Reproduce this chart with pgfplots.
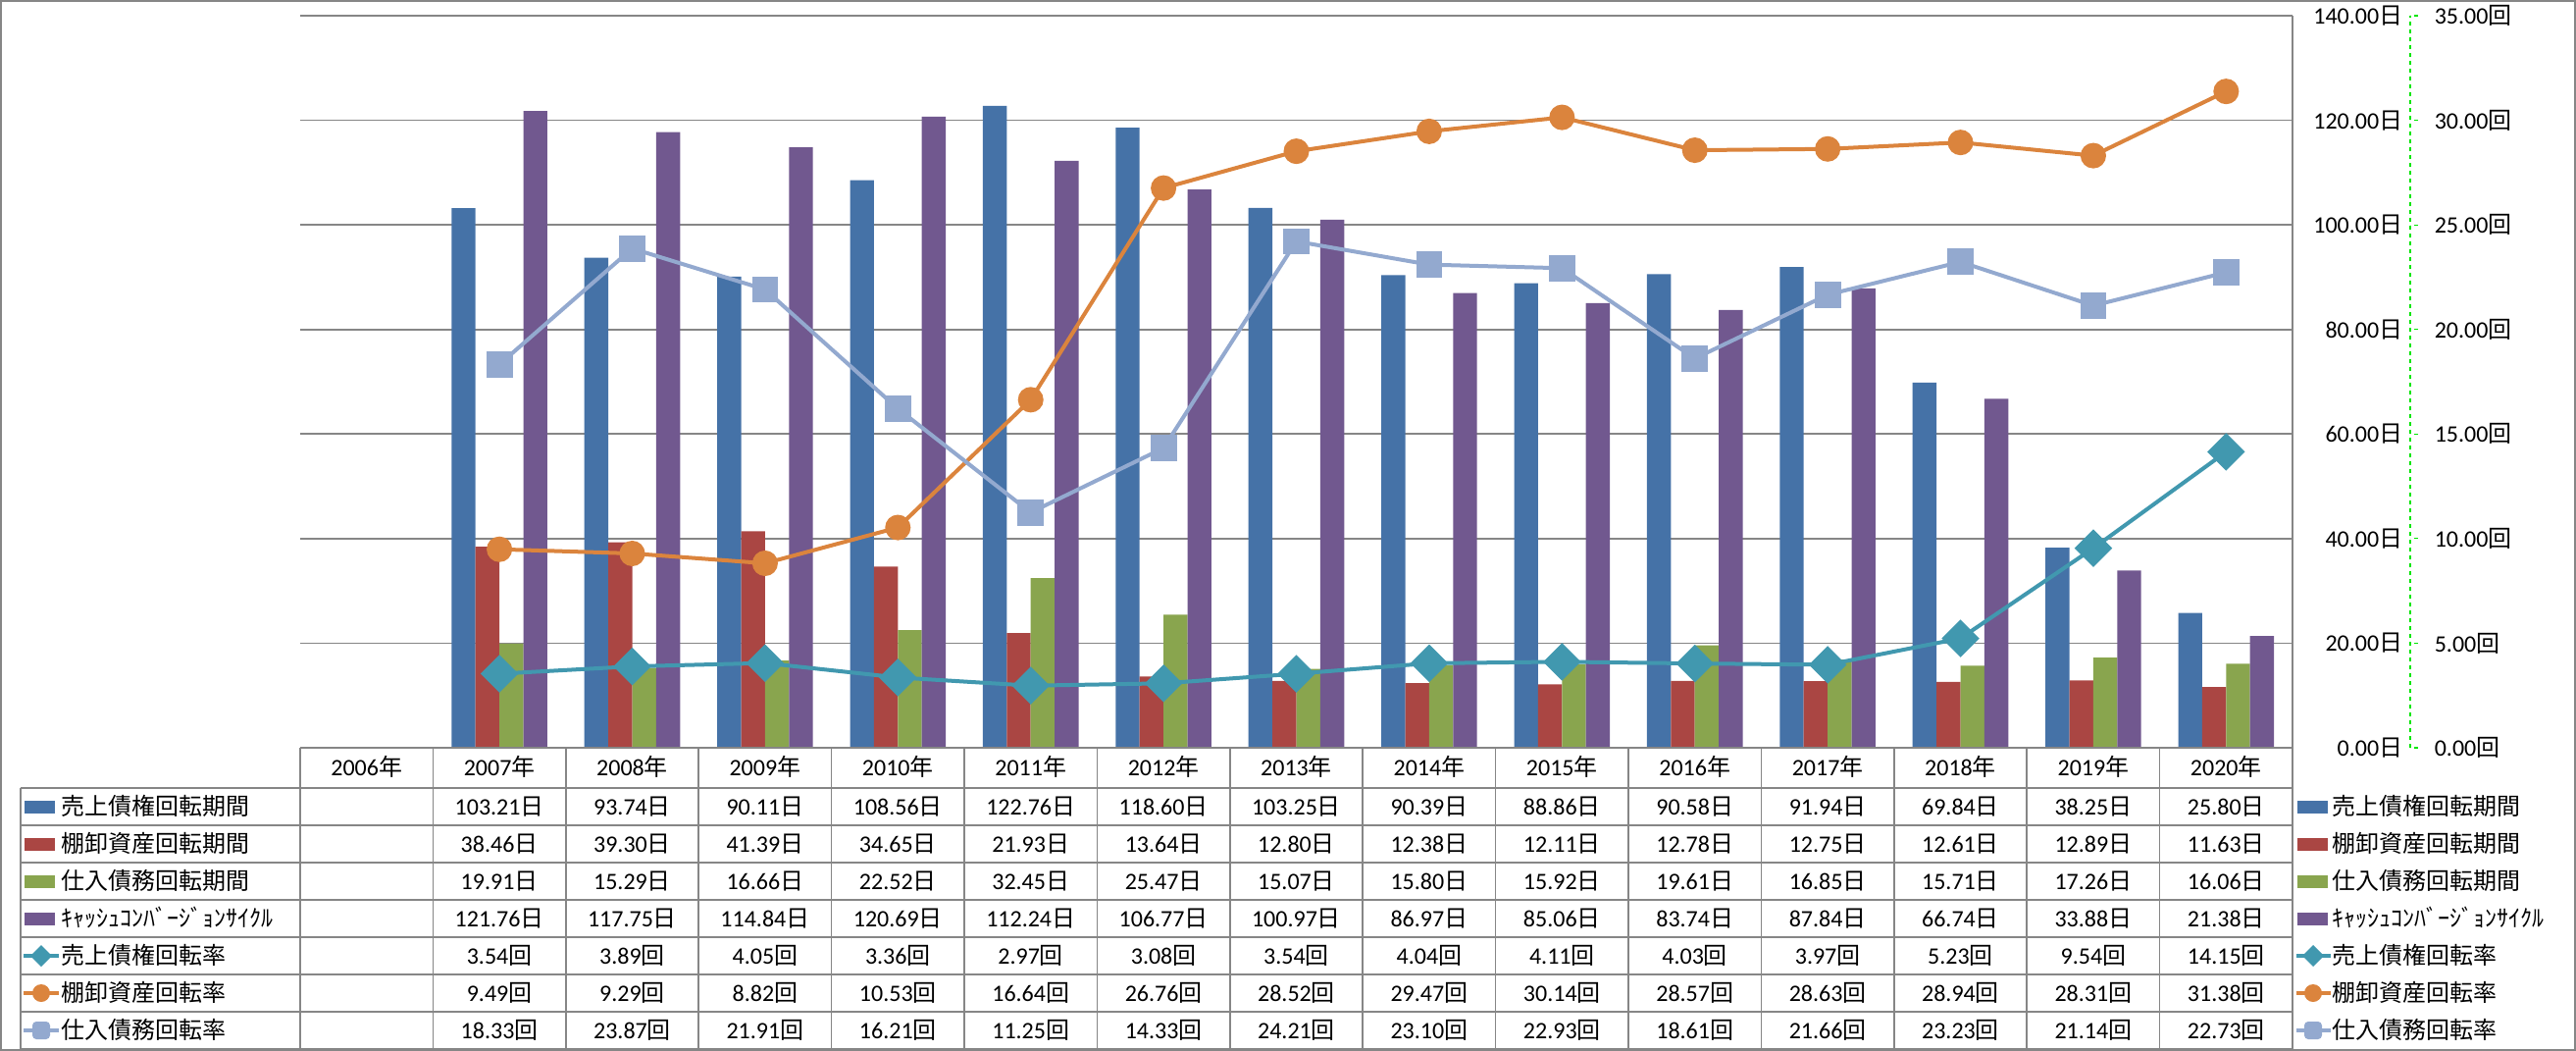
\documentclass[border=0pt]{standalone}
\usepackage{fontspec}
\setmainfont{Carlito}
\newfontfamily\jp{Noto Sans CJK JP}
\usepackage{pgfplots}
\usepackage{pgfplotstable}
\pgfplotsset{compat=1.18}

\definecolor{cBlue}{RGB}{69,114,167}
\definecolor{cRed}{RGB}{170,70,67}
\definecolor{cGreen}{RGB}{137,165,78}
\definecolor{cPurple}{RGB}{113,88,143}
\definecolor{cTeal}{RGB}{65,152,175}
\definecolor{cOrange}{RGB}{219,132,61}
\definecolor{cLBlue}{RGB}{147,169,207}
\definecolor{cGrid}{RGB}{134,134,134}
\definecolor{cGreenAx}{RGB}{0,230,0}

\pgfkeys{/pgf/number format/assume math mode=true}

% x: 1 = 2007 ... 14 = 2020 (0 = 2006, no data)
\pgfplotstableread{
x sd id pd ccc sr ir pr
1 103.21 38.46 19.91 121.76 3.54 9.49 18.33
2 93.74 39.30 15.29 117.75 3.89 9.29 23.87
3 90.11 41.39 16.66 114.84 4.05 8.82 21.91
4 108.56 34.65 22.52 120.69 3.36 10.53 16.21
5 122.76 21.93 32.45 112.24 2.97 16.64 11.25
6 118.60 13.64 25.47 106.77 3.08 26.76 14.33
7 103.25 12.80 15.07 100.97 3.54 28.52 24.21
8 90.39 12.38 15.80 86.97 4.04 29.47 23.10
9 88.86 12.11 15.92 85.06 4.11 30.14 22.93
10 90.58 12.78 19.61 83.74 4.03 28.57 18.61
11 91.94 12.75 16.85 87.84 3.97 28.63 21.66
12 69.84 12.61 15.71 66.74 5.23 28.94 23.23
13 38.25 12.89 17.26 33.88 9.54 28.31 21.14
14 25.80 11.63 16.06 21.38 14.15 31.38 22.73
}\datatable

\begin{document}
\fontsize{6}{7}\selectfont
\begin{tikzpicture}
% days axis (bars)
\begin{axis}[
  at={(76.5pt,-190.5pt)}, anchor=south west,
  scale only axis, width=507.75pt, height=186.5pt,
  xmin=-0.5, xmax=14.5, ymin=0, ymax=140,
  ybar=0pt, bar width=6.1pt,
  hide x axis, axis y line*=right,
  y axis line style={draw=cGrid, line width=0.4pt, -},
  ytick={0,20,...,140}, major tick length=0pt,
  ymajorgrids, grid style={draw=cGrid, line width=0.4pt},
  yticklabel={\pgfmathprintnumber[fixed,fixed zerofill,precision=2]{\tick}{\jp 日}},
  yticklabel style={anchor=east, inner sep=0pt, xshift=28.25pt},
  clip=false,
]
\addplot[fill=cBlue, draw=none] table[x=x,y=sd]{\datatable};
\addplot[fill=cRed, draw=none] table[x=x,y=id]{\datatable};
\addplot[fill=cGreen, draw=none] table[x=x,y=pd]{\datatable};
\addplot[fill=cPurple, draw=none] table[x=x,y=ccc]{\datatable};
\end{axis}
% turnover axis (lines), box widened so its y axis sits further right
\begin{axis}[
  at={(76.5pt,-190.5pt)}, anchor=south west,
  scale only axis, width=537.75pt, height=186.5pt,
  xmin=-0.5, xmax=15.386, ymin=0, ymax=35,
  hide x axis, axis y line*=right,
  y axis line style={draw=cGreenAx, dash pattern=on 1pt off 1pt, line width=0.3pt, -},
  ytick={0,5,...,35}, tick align=outside, major tick length=2pt,
  ytick style={draw=cGreenAx, dash pattern=on 1pt off 1pt, line width=0.3pt},
  yticklabel={\pgfmathprintnumber[fixed,fixed zerofill,precision=2]{\tick}{\jp 回}},
  yticklabel style={anchor=west, inner sep=0pt, xshift=4pt},
  clip=false,
]
\addplot[cTeal, line width=1pt, mark=square*, mark size=2.9pt, mark options={rotate=45}] table[x=x,y=sr]{\datatable};
\addplot[cOrange, line width=1pt, mark=*, mark size=2.75pt] table[x=x,y=ir]{\datatable};
\addplot[cLBlue, line width=1pt, mark=square*, mark size=2.85pt] table[x=x,y=pr]{\datatable};
\end{axis}

\begin{scope}[x=0.25pt, y=-0.25pt]
  \draw[cGrid, line width=0.5pt] (1,1) rectangle (2625,1070);
  % data table grid
  \draw[cGrid, line width=0.4pt] (306,762) -- (2337,762);
  \foreach \yy in {803,841,...,1069} \draw[cGrid, line width=0.4pt] (21,\yy) -- (2337,\yy);
  \draw[cGrid, line width=0.4pt] (21,803) -- (21,1069);
  \foreach \k in {0,...,15} \draw[cGrid, line width=0.4pt] ({306+135.4*\k},762) -- ({306+135.4*\k},1069);
  % header
  \foreach \yr [count=\k from 0] in {2006,...,2020}
    \node[anchor=base, inner sep=0pt] at ({306+135.4*(\k+0.5)},790.5) {\yr{\jp 年}};
  % values
  \foreach \col/\un [count=\r from 0] in {sd/日, id/日, pd/日, ccc/日, sr/回, ir/回, pr/回} {
    \foreach \k in {0,...,13} {
      \pgfplotstablegetelem{\k}{\col}\of\datatable
      \node[anchor=base, inner sep=0pt] at ({306+135.4*(\k+1.5)},{803+38*(\r+0.5)+8})
        {\pgfmathprintnumber[fixed,fixed zerofill,precision=2]{\pgfplotsretval}{\jp\un}};
    }
  }
  % bar series names + keys (table and right legend)
  \foreach \nm/\cl [count=\r from 0] in {売上債権回転期間/cBlue, 棚卸資産回転期間/cRed, 仕入債務回転期間/cGreen, ｷｬｯｼｭｺﾝﾊﾞｰｼﾞｮﾝｻｲｸﾙ/cPurple} {
    \pgfmathsetmacro{\yc}{803+38*(\r+0.5)}
    \fill[\cl] (25,\yc-6.5) rectangle (56,\yc+6.5);
    \node[anchor=base west, inner sep=0pt] at (62,\yc+8) {\jp\nm};
    \fill[\cl] (2342,\yc-6.5) rectangle (2373,\yc+6.5);
    \node[anchor=base west, inner sep=0pt] at (2377,\yc+8) {\jp\nm};
  }
  % line series names + keys
  \foreach \xc/\xa/\xb/\xt in {42/24/60/62, 2358/2341/2376/2377} {
    \pgfmathsetmacro{\yc}{803+38*4.5}
    \draw[cTeal, line width=1pt] (\xa,\yc) -- (\xb,\yc);
    \fill[cTeal] (\xc,\yc-11) -- (\xc+11,\yc) -- (\xc,\yc+11) -- (\xc-11,\yc) -- cycle;
    \node[anchor=base west, inner sep=0pt] at (\xt,\yc+8) {\jp 売上債権回転率};
    \pgfmathsetmacro{\yc}{803+38*5.5}
    \draw[cOrange, line width=1pt] (\xa,\yc) -- (\xb,\yc);
    \fill[cOrange] (\xc,\yc) circle[radius=9];
    \node[anchor=base west, inner sep=0pt] at (\xt,\yc+8) {\jp 棚卸資産回転率};
    \pgfmathsetmacro{\yc}{803+38*6.5}
    \draw[cLBlue, line width=1pt] (\xa,\yc) -- (\xb,\yc);
    \fill[cLBlue, rounded corners=1] (\xc-9,\yc-9) rectangle (\xc+9,\yc+9);
    \node[anchor=base west, inner sep=0pt] at (\xt,\yc+8) {\jp 仕入債務回転率};
  }
  \pgfresetboundingbox
  \path[use as bounding box] (0,0) rectangle (2626,1071);
\end{scope}
\end{tikzpicture}
\end{document}
